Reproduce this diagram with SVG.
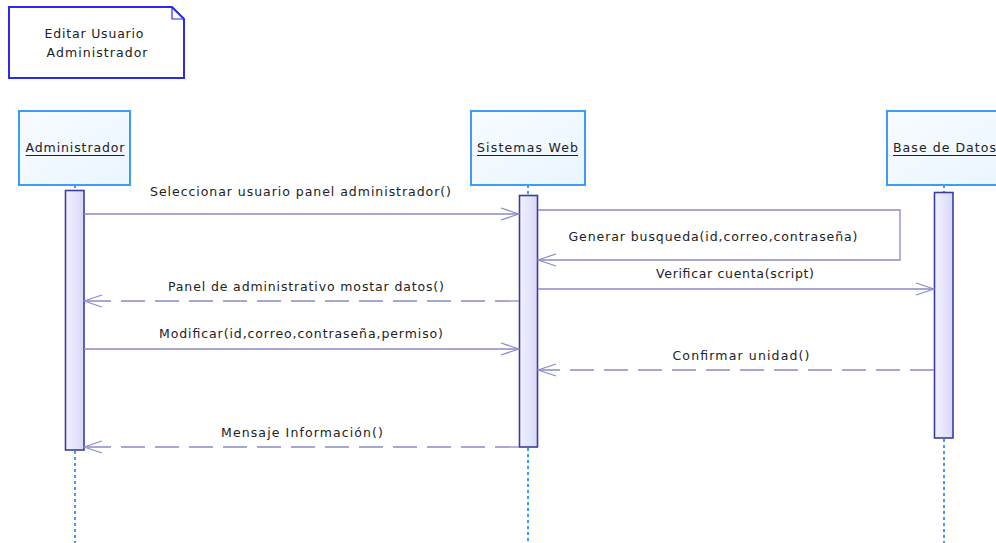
<svg xmlns="http://www.w3.org/2000/svg" width="996" height="543" viewBox="0 0 996 543">
  <defs>
    <linearGradient id="actFill" x1="0" y1="0" x2="1" y2="0">
      <stop offset="0" stop-color="#f2f2ff"/>
      <stop offset="1" stop-color="#d8d8f8"/>
    </linearGradient>
    <linearGradient id="boxFill" x1="0" y1="0" x2="1" y2="1">
      <stop offset="0" stop-color="#f8fcff"/>
      <stop offset="1" stop-color="#eaf5ff"/>
    </linearGradient>
    <marker id="open" viewBox="0 0 20 14" refX="19" refY="7" markerWidth="20" markerHeight="14" markerUnits="userSpaceOnUse" orient="auto">
      <path d="M1,1 L19,7 L1,13" fill="none" stroke="#8a8ac8" stroke-width="1.3"/>
    </marker>
  </defs>
  <style>
    text { font-family: "DejaVu Sans", Verdana, sans-serif; font-size: 12.5px; fill: #222; }
    .lbl { text-anchor: middle; }
    .head { fill: url(#boxFill); stroke: #3d9cf5; stroke-width: 2; }
    .uline { stroke: #222; stroke-width: 1.2; }
    .life { stroke: #3d9cf5; stroke-width: 2; stroke-dasharray: 3 3; fill: none; }
    .act { fill: url(#actFill); stroke: #3c3ca0; stroke-width: 1.6; }
    .msg { stroke: #8a8ac8; stroke-width: 1.3; fill: none; marker-end: url(#open); }
    .ret { stroke-dasharray: 24 10; }
    .note { fill: #fff; stroke: #2a2af0; stroke-width: 2; }
  </style>
  <rect width="996" height="543" fill="#fff"/>

  <!-- frame note -->
  <g id="note">
    <path class="note" d="M9,7 H172 L184,19 V78 H9 Z"/>
    <path d="M172,7 V19 H184" fill="none" stroke="#2a2af0" stroke-width="1.2"/>
    <text class="lbl" x="94" y="38" textLength="99">Editar Usuario</text>
    <text class="lbl" x="97" y="57" textLength="101">Administrador</text>
  </g>

  <!-- lifeline: Administrador -->
  <g id="administrador">
    <rect class="head" x="19" y="111" width="111" height="74"/>
    <text class="lbl" x="75" y="152" textLength="99">Administrador</text>
    <line class="uline" x1="25.5" y1="155.5" x2="124.5" y2="155.5"/>
    <line class="life" x1="75" y1="185" x2="75" y2="190"/>
    <line class="life" x1="75" y1="451" x2="75" y2="543"/>
    <rect class="act" x="65.5" y="190.5" width="18.5" height="259.5"/>
  </g>

  <!-- lifeline: Sistemas Web -->
  <g id="sistemas-web">
    <rect class="head" x="471" y="111" width="114" height="74"/>
    <text class="lbl" x="527.5" y="152" textLength="101">Sistemas Web</text>
    <line class="uline" x1="477" y1="155.5" x2="578" y2="155.5"/>
    <line class="life" x1="528" y1="185" x2="528" y2="195"/>
    <line class="life" x1="528" y1="448" x2="528" y2="543"/>
    <rect class="act" x="519.5" y="195.5" width="18" height="251.5"/>
  </g>

  <!-- lifeline: Base de Datos -->
  <g id="base-de-datos">
    <rect class="head" x="887" y="111" width="120" height="74"/>
    <text x="893" y="152" textLength="103">Base de Datos</text>
    <line class="uline" x1="893" y1="155.5" x2="996" y2="155.5"/>
    <line class="life" x1="944" y1="185" x2="944" y2="192"/>
    <line class="life" x1="944" y1="439" x2="944" y2="543"/>
    <rect class="act" x="934.5" y="192.5" width="18.5" height="245.5"/>
  </g>

  <!-- messages -->
  <g id="connectors">
    <line class="msg" x1="84" y1="214" x2="519" y2="214"/>
    <path class="msg" d="M538,210 H900 V260 H538"/>
    <line class="msg" x1="538" y1="289" x2="934" y2="289"/>
    <line class="msg ret" x1="519" y1="301" x2="84" y2="301"/>
    <line class="msg" x1="84" y1="349" x2="519" y2="349"/>
    <line class="msg ret" x1="934" y1="370" x2="538" y2="370"/>
    <line class="msg ret" x1="519" y1="447" x2="84" y2="447"/>
  </g>

  <g id="labels">
    <text class="lbl" x="300.5" y="196" textLength="301">Seleccionar usuario panel administrador()</text>
    <text class="lbl" x="713" y="241" textLength="289">Generar busqueda(id,correo,contraseña)</text>
    <text class="lbl" x="735" y="278" textLength="158">Verificar cuenta(script)</text>
    <text class="lbl" x="306" y="291" textLength="276">Panel de administrativo mostar datos()</text>
    <text class="lbl" x="301" y="338" textLength="284">Modificar(id,correo,contraseña,permiso)</text>
    <text class="lbl" x="741" y="360" textLength="137">Confirmar unidad()</text>
    <text class="lbl" x="302" y="437" textLength="162">Mensaje Información()</text>
  </g>
</svg>
